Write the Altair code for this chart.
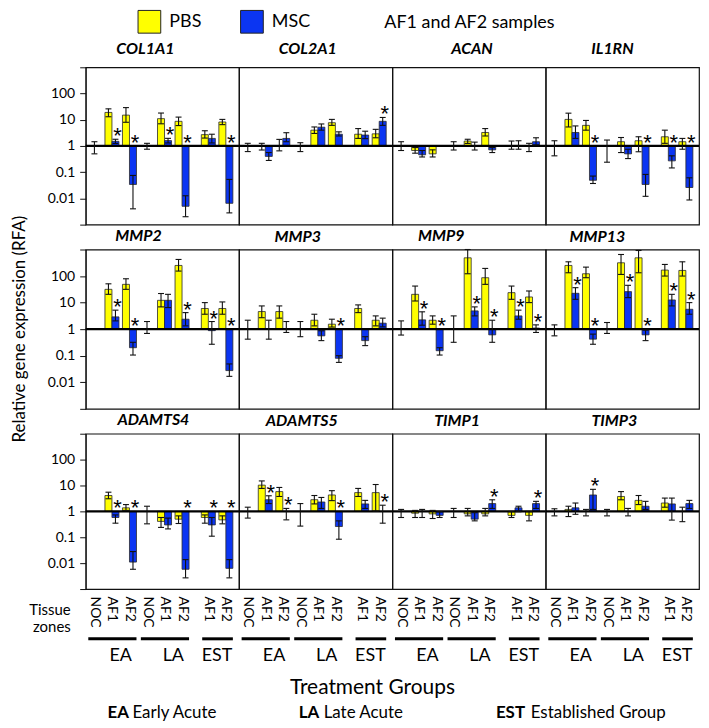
import altair as alt
import pandas as pd

# ----------------------------------------------------------------- data
GENES = ["COL1A1", "COL2A1", "ACAN", "IL1RN",
         "MMP2", "MMP3", "MMP9", "MMP13",
         "ADAMTS4", "ADAMTS5", "TIMP1", "TIMP3"]
TISSUE = ["NOC", "AF1", "AF2", "NOC", "AF1", "AF2", "AF1", "AF2"]
TGROUP = ["EA", "EA", "EA", "LA", "LA", "LA", "EST", "EST"]
GROUPS = ["EA", "LA", "EST"]
GROUP_LONG = ["Early Acute", "Late Acute", "Established Group"]
TREATMENTS = ["PBS", "MSC"]
NOTE = "AF1 and AF2 samples"
Y_TITLE = "Relative gene expression (RFA)"
X_TITLE = "Treatment Groups"
ZONE_TITLE = ["Tissue", "zones"]

# values for the six AF zones: EA-AF1, EA-AF2, LA-AF1, LA-AF2, EST-AF1, EST-AF2
PBS_MEAN = {
    "COL1A1": [19, 15, 11, 8.7, 2.7, 8.2],
    "COL2A1": [1, 1, 4.0, 7.7, 2.8, 2.9],
    "ACAN": [0.67, 0.5, 1.54, 3.26, 1, 1],
    "IL1RN": [10.3, 6.1, 1.45, 1.58, 2.24, 1.45],
    "MMP2": [31.6, 48.7, 12.2, 251, 6.0, 6.0],
    "MMP3": [4.6, 4.6, 2.17, 1.54, 6.0, 2.17],
    "MMP9": [20.5, 2.17, 486, 86.6, 23.7, 16.3],
    "MMP13": [251, 122, 316, 486, 168, 163],
    "ADAMTS4": [4.1, 1.37, 0.41, 0.5, 0.58, 0.47],
    "ADAMTS5": [10.3, 5.8, 2.82, 4.3, 5.3, 5.3],
    "TIMP1": [0.85, 0.8, 0.8, 0.8, 0.7, 0.7],
    "TIMP3": [1.19, 1, 3.76, 2.66, 2.1, 1],
}
PBS_LO = {
    "COL1A1": [13, 8, 7, 6, 2.0, 6.5],
    "COL2A1": [0.7, 0.65, 3.0, 6.1, 1.94, 2.05],
    "ACAN": [0.53, 0.38, 1.25, 2.4, 0.75, 0.61],
    "IL1RN": [5.3, 4.0, 0.56, 0.6, 1.26, 0.75],
    "MMP2": [20.5, 31.6, 6.9, 154, 3.65, 3.65],
    "MMP3": [2.7, 2.6, 1.33, 1.2, 4.2, 1.33],
    "MMP9": [11.5, 1.54, 122, 48.7, 13.3, 10],
    "MMP13": [133, 86.6, 115, 133, 100, 100],
    "ADAMTS4": [3.07, 1.09, 0.24, 0.34, 0.35, 0.33],
    "ADAMTS5": [7.7, 3.76, 1.94, 2.6, 3.76, 1.03],
    "TIMP1": [0.58, 0.53, 0.67, 0.67, 0.58, 0.43],
    "TIMP3": [0.63, 0.67, 2.8, 1.83, 1.45, 0.4],
}
PBS_HI = {
    "COL1A1": [26, 29, 18, 12.6, 3.8, 10.3],
    "COL2A1": [1.26, 1.78, 5.3, 10.3, 4.6, 4.3],
    "ACAN": [0.87, 0.71, 1.8, 4.6, 1.54, 1.26],
    "IL1RN": [17.8, 9.4, 2.1, 2.24, 4.0, 1.94],
    "MMP2": [51, 79, 22, 422, 10, 10.6],
    "MMP3": [7.5, 7.5, 3.65, 2.37, 8.2, 3.16],
    "MMP9": [42, 3.16, 1000, 194, 42, 27.4],
    "MMP13": [344, 217, 649, 918, 274, 344],
    "ADAMTS4": [5.5, 1.83, 0.58, 0.67, 0.73, 0.67],
    "ADAMTS5": [15, 8.4, 4.1, 6.3, 7.7, 10.9],
    "TIMP1": [1.09, 1.09, 1.3, 1.3, 0.97, 0.97],
    "TIMP3": [1.58, 1.19, 5.8, 4.1, 3.26, 1.45],
}
MSC_MEAN = {
    "COL1A1": [1.5, 0.034, 1.6, 0.005, 1.94, 0.0065],
    "COL2A1": [0.4, 1.94, 5.2, 2.8, 2.6, 8.7],
    "ACAN": [0.46, None, 1, 0.71, 1, 1.45],
    "IL1RN": [3.26, 0.049, 0.5, 0.034, 0.27, 0.026],
    "MMP2": [2.9, 0.2, 12.2, 2.37, 0.88, 0.0275],
    "MMP3": [1, 1, 0.56, 0.08, 0.37, 1.68],
    "MMP9": [2.24, 0.154, 4.87, 0.61, 3.16, 1.1],
    "MMP13": [22.4, 0.42, 25.9, 0.61, 12.6, 5.6],
    "ADAMTS4": [0.58, 0.011, 0.3, 0.0058, 0.3, 0.0063],
    "ADAMTS5": [2.82, 1, 2.3, 0.26, 1.94, 1],
    "TIMP1": [1, 0.7, 0.5, 2.0, 1.37, 2.0],
    "TIMP3": [1.37, 4.3, 1, 1.58, 1.94, 2.0],
}
MSC_LO = {
    "COL1A1": [1.25, 0.004, 1.3, 0.002, 1.3, 0.0028],
    "COL2A1": [0.28, 1.45, 4.0, 2.4, 1.9, 6.1],
    "ACAN": [0.38, None, 0.7, 0.56, 0.75, 1.1],
    "IL1RN": [1.94, 0.037, 0.33, 0.012, 0.145, 0.0087],
    "MMP2": [2.05, 0.106, 6.5, 1.33, 0.27, 0.0167],
    "MMP3": [0.42, 0.75, 0.37, 0.056, 0.24, 1.22],
    "MMP9": [1.41, 0.106, 3.16, 0.32, 2.37, 0.75],
    "MMP13": [13.3, 0.27, 15.4, 0.37, 7.5, 3.65],
    "ADAMTS4": [0.35, 0.0058, 0.21, 0.0027, 0.11, 0.0027],
    "ADAMTS5": [2.0, 0.47, 1.3, 0.084, 1.3, 0.35],
    "TIMP1": [0.58, 0.58, 0.43, 1.3, 0.97, 1.3],
    "TIMP3": [0.77, 1.19, 0.67, 1.19, 0.46, 1.3],
}
MSC_HI = {
    "COL1A1": [1.8, 0.075, 1.95, 0.0126, 2.8, 0.053],
    "COL2A1": [0.56, 3.2, 6.9, 3.45, 3.65, 12.2],
    "ACAN": [0.67, None, 1.4, 0.87, 1.58, 2.05],
    "IL1RN": [5.8, 0.071, 0.75, 0.082, 0.42, 0.061],
    "MMP2": [5.2, 0.32, 20.5, 4.2, 1.94, 0.049],
    "MMP3": [2.17, 1.94, 0.87, 0.1, 0.52, 2.6],
    "MMP9": [4.5, 0.2, 6.9, 2.17, 5.2, 1.45],
    "MMP13": [36.5, 0.65, 44.8, 0.92, 20.5, 10],
    "ADAMTS4": [0.73, 0.028, 0.55, 0.0137, 0.58, 0.0137],
    "ADAMTS5": [4.0, 1.3, 3.45, 0.43, 2.66, 1.73],
    "TIMP1": [1.19, 0.97, 0.89, 2.8, 1.58, 2.44],
    "TIMP3": [2.1, 7.1, 1.3, 2.44, 3.26, 2.66],
}
# significance marks (MSC vs PBS) per AF zone
SIG = {
    "COL1A1": [1, 1, 1, 1, 0, 1],
    "COL2A1": [0, 0, 0, 0, 0, 1],
    "ACAN": [0, 0, 0, 0, 0, 0],
    "IL1RN": [0, 1, 0, 1, 1, 1],
    "MMP2": [1, 1, 0, 1, 1, 1],
    "MMP3": [0, 0, 0, 1, 0, 0],
    "MMP9": [1, 1, 1, 1, 1, 1],
    "MMP13": [1, 1, 1, 1, 1, 1],
    "ADAMTS4": [1, 1, 0, 1, 1, 1],
    "ADAMTS5": [1, 1, 0, 1, 0, 1],
    "TIMP1": [0, 0, 0, 1, 0, 1],
    "TIMP3": [0, 1, 0, 0, 0, 0],
}
# NOC reference (value 1): error range for EA-NOC and LA-NOC
NOC_LO = {
    "COL1A1": [0.5, 0.75], "COL2A1": [0.61, 0.61], "ACAN": [0.67, 0.7],
    "IL1RN": [0.42, 0.24], "MMP2": [None, 0.69], "MMP3": [0.42, 0.52],
    "MMP9": [0.6, 0.32], "MMP13": [0.56, 0.69], "ADAMTS4": [None, 0.33],
    "ADAMTS5": [0.55, 0.27], "TIMP1": [0.58, 0.58], "TIMP3": [0.67, 0.67],
}
NOC_HI = {
    "COL1A1": [1.45, 1.26], "COL2A1": [1.26, 1.33], "ACAN": [1.45, 1.45],
    "IL1RN": [1.58, 1.68], "MMP2": [None, 1.94], "MMP3": [2.17, 1.94],
    "MMP9": [2.05, 3.16], "MMP13": [1.45, 1.78], "ADAMTS4": [None, 1.58],
    "ADAMTS5": [1.45, 2.0], "TIMP1": [1.19, 1.3], "TIMP3": [1.26, 1.19],
}

# ----------------------------------------------------------------- layout / style
W = 154
ROW_H = [158, 160, 156]
ANNOT_H = 30
ROW_GAP = 25
XDOM = [0, 8.75]
YDOM = [0.001, 1000]
YTICKS = [0.001, 0.01, 0.1, 1, 10, 100, 1000]
BAR_W = 0.4
CAP = 0.17
FONT = "Lato"
YEL = "#FFFF00"
BLU = "#0B35F2"
INK = "#111111"
TITLE_DX = [[-17, -8, 3, -10], [-24, -18, -28, -25], [-9, -14, -12, -8]]
TITLE_OFFSET = [10, 5, 5]
# pixel offsets (relative to the bottom annotation strip) for free-standing labels
ANNOT_TOP = sum(ROW_H) + 3 * ROW_GAP
NOTE_XY = (300, -ANNOT_TOP - 44)
YTITLE_XY = (-66, -ANNOT_TOP + ROW_H[0] + ROW_GAP + ROW_H[1] / 2)

slot = [i + 0.5 + (0.5 if TGROUP[i] == "EST" else 0) for i in range(len(TISSUE))]
zone_idx = [i for i, t in enumerate(TISSUE) if t != "NOC"]
noc_idx = [i for i, t in enumerate(TISSUE) if t == "NOC"]

XS = alt.Scale(domain=XDOM, nice=False, zero=False)
YS = alt.Scale(type="log", domain=YDOM, nice=False)

COLOR = alt.Color(
    "trt:N",
    scale=alt.Scale(domain=TREATMENTS, range=[YEL, BLU]),
    legend=alt.Legend(
        title=None, orient="none", legendX=52, legendY=-58, direction="horizontal",
        symbolType="square", symbolSize=520, symbolStrokeColor="#222222",
        symbolStrokeWidth=1, labelFont=FONT, labelFontSize=18, labelColor="black",
        columnPadding=36, labelOffset=8,
    ),
)


def gene_frame(g):
    rows = []
    for k, i in enumerate(zone_idx):
        s = slot[i]
        for trt, m, lo, hi in (("PBS", PBS_MEAN, PBS_LO, PBS_HI),
                               ("MSC", MSC_MEAN, MSC_LO, MSC_HI)):
            v = m[g][k]
            if v is None:
                continue
            xa = s - BAR_W if trt == "PBS" else s
            xc = xa + BAR_W / 2
            rows.append(dict(trt=trt, v=v, one=1, lo=lo[g][k], hi=hi[g][k],
                             xa=xa, xb=xa + BAR_W, xc=xc, ca=xc - CAP, cb=xc + CAP,
                             bar=(v != 1), star=(trt == "MSC" and SIG[g][k] == 1),
                             sy=max(hi[g][k], 1)))
    for j, i in enumerate(noc_idx):
        if NOC_LO[g][j] is None:
            continue
        s = slot[i]
        rows.append(dict(trt="NOC", v=1, one=1, lo=NOC_LO[g][j], hi=NOC_HI[g][j],
                         xa=s, xb=s, xc=s, ca=s - CAP, cb=s + CAP,
                         bar=False, star=False, sy=1))
    return pd.DataFrame(rows)


def y_axis():
    return alt.Axis(values=YTICKS, grid=False, tickSize=6, tickColor=INK, domainColor=INK,
                    labelFont=FONT, labelFontSize=14, labelColor="black", labelPadding=5,
                    labelExpr="datum.value < 0.005 || datum.value > 500 ? '' : format(datum.value, '~g')")


def x_axis():
    expr = " : ".join(f"datum.value == {s} ? '{t}'" for s, t in zip(slot, TISSUE)) + " : ''"
    return alt.Axis(values=slot, labelExpr=expr, labelAngle=90, labelAlign="left",
                    labelBaseline="middle", ticks=False, domain=False, grid=False,
                    labelPadding=7, labelFont=FONT, labelFontSize=14, labelColor="black",
                    labelOverlap=False)


def panel(gi):
    g = GENES[gi]
    r, c = divmod(gi, 4)
    df = gene_frame(g)
    yax = y_axis() if c == 0 else None
    xax = x_axis() if r == 2 else None

    def X(f):
        return alt.X(f"{f}:Q", scale=XS, axis=xax, title=None)

    def Y(f):
        return alt.Y(f"{f}:Q", scale=YS, axis=yax, title=None)

    base = alt.Chart(df)
    bars = base.transform_filter("datum.bar").mark_rect(
        stroke="#2a2a2a", strokeWidth=0.8).encode(
        x=X("xa"), x2="xb:Q", y=Y("v"), y2="one:Q", color=COLOR)
    baseline = alt.Chart(pd.DataFrame({"one": [1]})).mark_rule(
        color="black", strokeWidth=2.2).encode(y=Y("one"))
    whisk = base.mark_rule(color=INK, strokeWidth=1.1).encode(x=X("xc"), y=Y("lo"), y2="hi:Q")
    cap_lo = base.mark_rule(color=INK, strokeWidth=1.1).encode(x=X("ca"), x2="cb:Q", y=Y("lo"))
    cap_hi = base.mark_rule(color=INK, strokeWidth=1.1).encode(x=X("ca"), x2="cb:Q", y=Y("hi"))
    stars = base.transform_filter("datum.star").mark_text(
        text="*", font="Liberation Sans", fontSize=22, baseline="alphabetic",
        dx=2, dy=4, color="black").encode(x=X("xc"), y=Y("sy"))
    layers = [bars, baseline, whisk, cap_lo, cap_hi, stars]
    return alt.layer(*layers).properties(
        width=W, height=ROW_H[r],
        title=alt.TitleParams(text=g, font=FONT, fontSize=16, fontStyle="italic",
                              fontWeight="bold", color="black", anchor="middle",
                              frame="group", dx=TITLE_DX[r][c], offset=TITLE_OFFSET[r]),
    )


grp_rows = []
for gname in GROUPS:
    idx = [i for i, t in enumerate(TGROUP) if t == gname]
    af = [slot[i] for i in idx if TISSUE[i] != "NOC"]
    grp_rows.append(dict(g=gname, x0=slot[idx[0]] - 0.35, x1=slot[idx[-1]] + 0.4,
                         xm=sum(af) / len(af)))
GRP_DF = pd.DataFrame(grp_rows)

LEG_PX = [22, 214, 412]
LEG_GAP = [25, 25, 35]


def annot(c):
    base = alt.Chart(GRP_DF)
    lines = base.mark_rule(color="black", strokeWidth=3).encode(
        x=alt.X("x0:Q", scale=XS, axis=None), x2="x1:Q", y=alt.value(25))
    labs = base.mark_text(font=FONT, fontSize=18, baseline="middle", color="black").encode(
        x=alt.X("xm:Q", scale=XS, axis=None), text="g:N", y=alt.value(42))
    layers = [lines, labs]
    if c == 0:
        tz = alt.Chart(pd.DataFrame({"t": ZONE_TITLE, "py": [-4, 13]})).mark_text(
            align="right", baseline="middle", font=FONT, fontSize=15, color="black").encode(
            text="t:N", x=alt.value(-15), y=alt.Y("py:Q", scale=None))
        tg = alt.Chart(pd.DataFrame({"t": [X_TITLE]})).mark_text(
            align="center", baseline="middle", font=FONT, fontSize=21, color="black").encode(
            text="t:N", x=alt.value(288), y=alt.value(74))
        leg = pd.DataFrame({"a": GROUPS, "l": GROUP_LONG, "px": LEG_PX,
                            "pl": [p + d for p, d in zip(LEG_PX, LEG_GAP)]})
        la = alt.Chart(leg).mark_text(align="left", baseline="middle", font=FONT, fontSize=17,
                                      fontWeight="bold", color="black").encode(
            text="a:N", x=alt.X("px:Q", scale=None), y=alt.value(100))
        ll = alt.Chart(leg).mark_text(align="left", baseline="middle", font=FONT, fontSize=17,
                                      color="black").encode(
            text="l:N", x=alt.X("pl:Q", scale=None), y=alt.value(100))
        note = alt.Chart(pd.DataFrame({"t": [NOTE]})).mark_text(
            align="left", baseline="middle", font=FONT, fontSize=18, color="black").encode(
            text="t:N", x=alt.value(NOTE_XY[0]), y=alt.value(NOTE_XY[1]))
        yt = alt.Chart(pd.DataFrame({"t": [Y_TITLE]})).mark_text(
            align="center", baseline="middle", font=FONT, fontSize=17, angle=270,
            color="black").encode(
            text="t:N", x=alt.value(YTITLE_XY[0]), y=alt.value(YTITLE_XY[1]))
        layers += [tz, tg, la, ll, note, yt]
    return alt.layer(*layers).properties(
        width=W, height=ANNOT_H, view=alt.ViewBackground(stroke="transparent"))


cells = [panel(i) for i in range(len(GENES))] + [annot(c) for c in range(4)]

chart = (
    alt.concat(*cells, columns=4, spacing={"row": ROW_GAP, "column": 0}, bounds="flush")
    .resolve_scale(color="shared").resolve_legend(color="shared")
    .properties(padding={"left": 2, "top": 0, "right": 0, "bottom": 0})
    .configure_view(stroke=INK, strokeWidth=1.2)
)

chart.save("out.html", embed_options={"renderer": "svg", "actions": False})
